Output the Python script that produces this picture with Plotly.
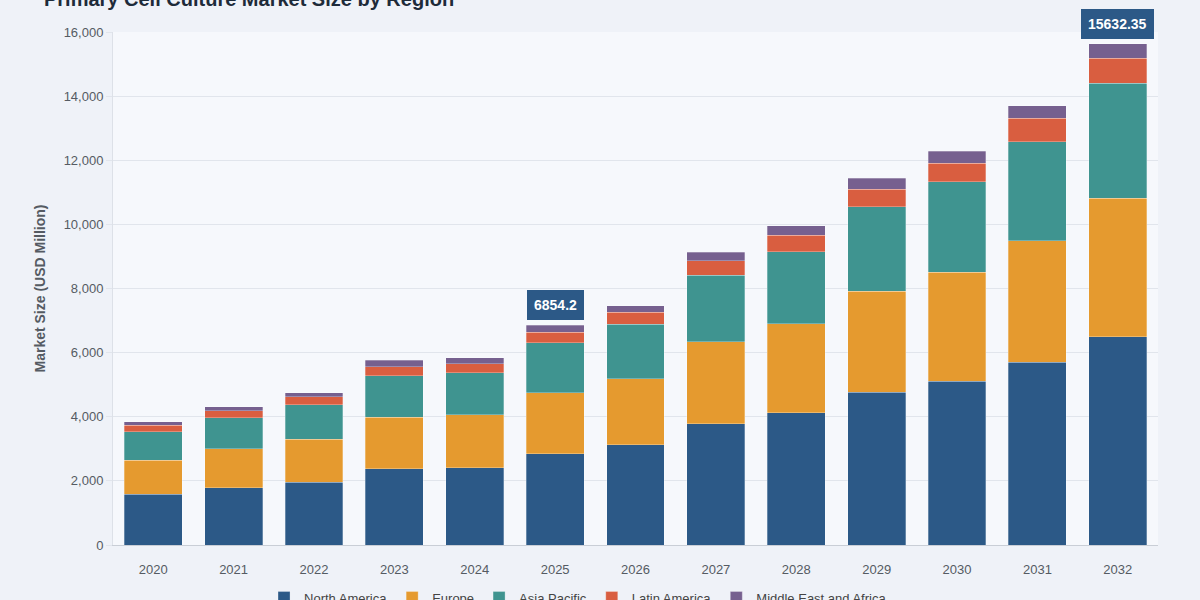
import plotly.graph_objects as go

# market size by region, USD million
years = ["2020", "2021", "2022", "2023", "2024", "2025", "2026",
         "2027", "2028", "2029", "2030", "2031", "2032"]
north_america = [1590, 1790, 1955, 2380, 2410, 2840, 3120, 3775, 4125, 4760, 5115, 5700, 6500]
europe = [1060, 1205, 1341, 1603, 1645, 1910, 2060, 2565, 2768, 3160, 3390, 3793, 4315]
asia_pacific = [883, 967, 1071, 1299, 1320, 1560, 1705, 2080, 2255, 2630, 2828, 3088, 3585]
latin_america = [200, 219, 259, 280, 271, 323, 375, 447, 512, 552, 573, 729, 780]
mea = [113, 134, 124, 208, 197, 221.2, 205, 262, 290, 333, 380, 395, 452.35]

series = [
    ("North America", north_america, "#2c5987"),
    ("Europe", europe, "#e59a2f"),
    ("Asia Pacific", asia_pacific, "#3f9490"),
    ("Latin America", latin_america, "#d95e40"),
    ("Middle East and Africa", mea, "#76608f"),
]

# totals that get a callout box
labelled_years = ["2025", "2032"]

fig = go.Figure()
for name, vals, color in series:
    fig.add_trace(go.Bar(
        x=years, y=vals, name=name,
        marker=dict(color=color, line=dict(color="rgba(255,255,255,0.35)", width=0.8)),
    ))

totals = [sum(v) for v in zip(north_america, europe, asia_pacific, latin_america, mea)]
for i, (yr, tot) in enumerate(zip(years, totals)):
    if yr in labelled_years:
        # category index, a year string gets read as a number here
        fig.add_annotation(
            x=i, y=tot, text="<b>%s</b>" % round(tot, 2),
            showarrow=False, yanchor="bottom", yshift=5,
            font=dict(color="white", size=14),
            bgcolor="#2c5987", bordercolor="#2c5987", borderpad=6,
        )

# title sits mostly above the page edge in the reference
fig.add_annotation(
    xref="paper", yref="paper", x=-0.068, y=1.064,
    xanchor="left", yanchor="middle", showarrow=False,
    text="<b>Primary Cell Culture Market Size by Region</b>",
    font=dict(size=20, color="#1e2b3a"),
)

fig.update_layout(
    barmode="stack",
    bargap=0.28,
    width=1200, height=600,
    margin=dict(l=113, r=42, t=32, b=55),
    paper_bgcolor="#eff2f8",
    plot_bgcolor="#f6f8fc",
    font=dict(family="Liberation Sans, Arial, sans-serif", color="#555b63", size=13),
    showlegend=True,
    legend=dict(orientation="h", x=0.445, xanchor="center", yref="container",
                y=0.004, yanchor="middle", itemwidth=30,
                font=dict(size=13, color="#444"), traceorder="normal"),
)
fig.update_xaxes(
    type="category", range=[-0.5, len(years) - 0.5], autorange=False,
    automargin=False,
    showline=True, linecolor="#c9ced6", linewidth=1,
    ticks="", ticklabelstandoff=12, tickfont=dict(size=13, color="#555b63"),
)
fig.update_yaxes(
    range=[0, 16000], dtick=2000, tickformat=",",
    showgrid=True, gridcolor="#e1e5ec", gridwidth=1,
    showline=True, linecolor="#dde1e8", linewidth=1,
    ticks="outside", ticklen=6, tickcolor="#e1e5ec",
    zeroline=False,
    tickfont=dict(size=13, color="#555b63"),
    title=dict(text="<b>Market Size (USD Million)</b>", font=dict(size=14, color="#555b63"), standoff=14),
)

# drop the default page margin so the chart fills the window
fig.write_html("out.html", config={"displayModeBar": False},
               post_script="document.body.style.margin = '0';")
